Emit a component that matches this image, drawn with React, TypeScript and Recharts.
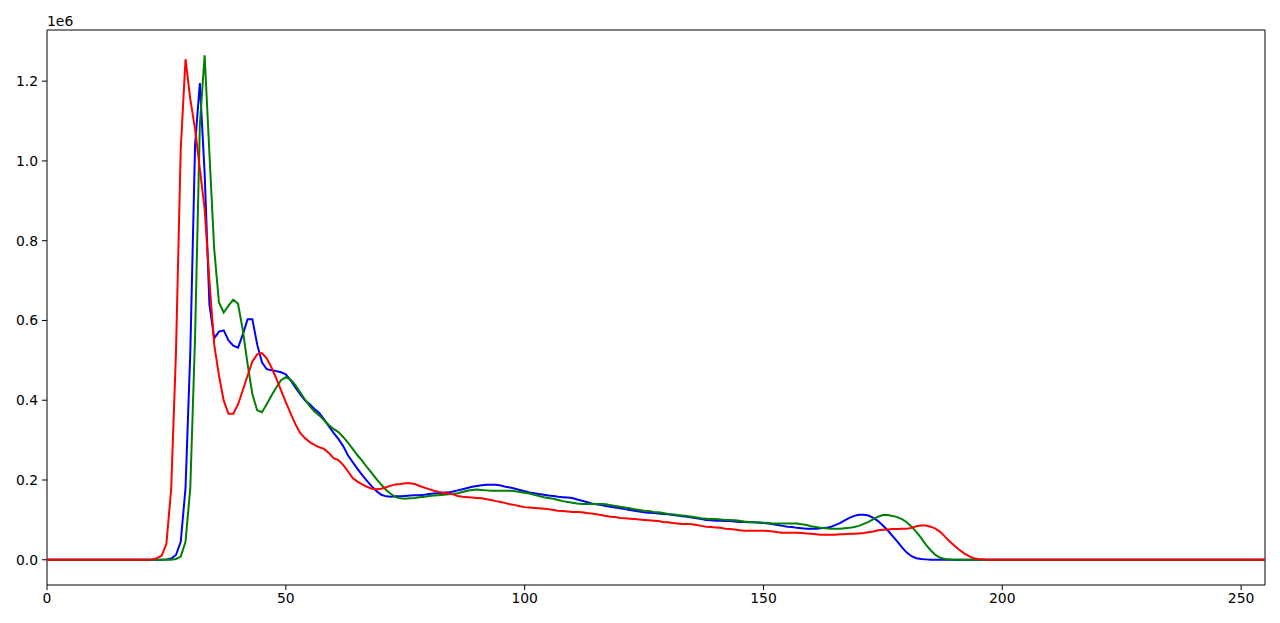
import React from 'react';
import { LineChart, Line, XAxis, YAxis, ReferenceArea } from 'recharts';

// pixel counts per intensity bin (0..255), values in thousands
const red = [
  0, 0, 0, 0, 0, 0, 0, 0, 0, 0,
  0, 0, 0, 0, 0, 0, 0, 0, 0, 0,
  0, 0, 1, 4, 10, 40, 178, 520, 1030, 1255,
  1155, 1080, 980, 880, 700, 540, 462, 399, 366, 366,
  390, 425, 462, 497, 515, 518, 505, 482, 455, 425,
  395, 367, 340, 318, 305, 295, 288, 282, 278, 268,
  255, 250, 238, 222, 205, 196, 189, 183, 178, 177,
  178, 182, 186, 189, 190, 192, 192, 190, 185, 181,
  177, 173, 170, 168, 166, 164, 160, 158, 157, 156,
  155, 154, 152, 150, 147, 145, 142, 139, 137, 134,
  132, 131, 130, 129, 128, 127, 125, 123, 122, 121,
  120, 120, 119, 117, 116, 114, 112, 110, 108, 107,
  105, 104, 103, 102, 101, 100, 99, 98, 97, 95,
  94, 92, 91, 90, 90, 89, 87, 85, 83, 82,
  81, 80, 78, 77, 76, 74, 73, 73, 73, 73,
  73, 72, 71, 69, 68, 68, 68, 68, 67, 66,
  65, 64, 63, 63, 63, 63, 64, 64, 65, 65,
  66, 67, 69, 71, 74, 75, 76, 77, 77, 78,
  78, 80, 84, 86, 86, 83, 78, 70, 58, 46,
  35, 25, 16, 9, 4, 2, 1, 0, 0, 0,
  0, 0, 0, 0, 0, 0, 0, 0, 0, 0,
  0, 0, 0, 0, 0, 0, 0, 0, 0, 0,
  0, 0, 0, 0, 0, 0, 0, 0, 0, 0,
  0, 0, 0, 0, 0, 0, 0, 0, 0, 0,
  0, 0, 0, 0, 0, 0, 0, 0, 0, 0,
  0, 0, 0, 0, 0, 0,
];

const green = [
  0, 0, 0, 0, 0, 0, 0, 0, 0, 0,
  0, 0, 0, 0, 0, 0, 0, 0, 0, 0,
  0, 0, 0, 0, 0, 0, 0, 2, 8, 45,
  180, 560, 1090, 1265, 1020, 780, 645, 620, 637, 652,
  642, 575, 490, 415, 375, 370, 390, 412, 432, 450,
  458, 452, 438, 420, 402, 385, 372, 362, 350, 338,
  328, 320, 308, 294, 278, 262, 248, 232, 217, 202,
  188, 175, 165, 157, 154, 153, 154, 155, 157, 158,
  160, 161, 162, 163, 164, 165, 167, 170, 173, 175,
  176, 175, 174, 173, 173, 173, 173, 173, 172, 170,
  168, 166, 163, 160, 157, 155, 153, 150, 147, 145,
  143, 141, 140, 140, 140, 140, 140, 139, 137, 135,
  133, 131, 129, 127, 125, 123, 122, 120, 119, 117,
  115, 114, 112, 111, 110, 108, 106, 104, 103, 102,
  102, 101, 100, 100, 99, 98, 96, 95, 94, 94,
  93, 92, 91, 91, 91, 91, 91, 91, 89, 87,
  84, 82, 80, 79, 78, 78, 78, 79, 80, 82,
  85, 90, 95, 102, 108, 112, 112, 110, 107, 102,
  94, 83, 70, 55, 38, 24, 12, 5, 2, 1,
  0, 0, 0, 0, 0, 0, 0, 0, 0, 0,
  0, 0, 0, 0, 0, 0, 0, 0, 0, 0,
  0, 0, 0, 0, 0, 0, 0, 0, 0, 0,
  0, 0, 0, 0, 0, 0, 0, 0, 0, 0,
  0, 0, 0, 0, 0, 0, 0, 0, 0, 0,
  0, 0, 0, 0, 0, 0, 0, 0, 0, 0,
  0, 0, 0, 0, 0, 0,
];

const blue = [
  0, 0, 0, 0, 0, 0, 0, 0, 0, 0,
  0, 0, 0, 0, 0, 0, 0, 0, 0, 0,
  0, 0, 0, 0, 0, 1, 3, 12, 45, 180,
  520, 1040, 1195, 970, 640, 555, 572, 575, 550, 537,
  532, 565, 603, 603, 540, 495, 478, 475, 473, 470,
  465, 450, 432, 415, 400, 390, 378, 368, 352, 335,
  318, 303, 285, 262, 245, 228, 212, 198, 184, 172,
  163, 159, 158, 159, 159, 160, 161, 162, 162, 163,
  165, 166, 167, 168, 169, 171, 174, 177, 180, 183,
  185, 187, 188, 188, 188, 186, 183, 181, 178, 175,
  172, 169, 167, 165, 163, 161, 160, 158, 157, 156,
  155, 151, 148, 145, 141, 139, 137, 135, 133, 131,
  129, 127, 125, 123, 121, 119, 118, 117, 116, 115,
  114, 112, 111, 109, 108, 106, 104, 102, 100, 99,
  98, 98, 97, 97, 96, 95, 95, 94, 94, 93,
  92, 91, 89, 87, 85, 83, 82, 80, 79, 78,
  78, 78, 79, 80, 82, 87, 92, 99, 105, 110,
  113, 113, 111, 105, 97, 86, 74, 60, 46, 31,
  18, 9, 4, 2, 1, 0, 0, 0, 0, 0,
  0, 0, 0, 0, 0, 0, 0, 0, 0, 0,
  0, 0, 0, 0, 0, 0, 0, 0, 0, 0,
  0, 0, 0, 0, 0, 0, 0, 0, 0, 0,
  0, 0, 0, 0, 0, 0, 0, 0, 0, 0,
  0, 0, 0, 0, 0, 0, 0, 0, 0, 0,
  0, 0, 0, 0, 0, 0, 0, 0, 0, 0,
  0, 0, 0, 0, 0, 0,
];

const xTicks = [0, 50, 100, 150, 200, 250];
const yTicks = [0, 200, 400, 600, 800, 1000, 1200];

const data = red.map((r, i) => ({ bin: i, r, g: green[i], b: blue[i] }));

const tickStyle = { fill: '#000', fontSize: 13.9, fontFamily: 'DejaVu Sans' };

// matplotlib style offset text above the y axis
const renderOffset = (props: any) => {
    const vb = props.viewBox || {};
    return (
        <text x={vb.x + vb.width} y={vb.y - 4} fill="#000" fontSize={13.9} fontFamily="DejaVu Sans" textAnchor="start">
            1e6
        </text>
    );
};

export default function App() {
    return (
        <div style={{ position: 'absolute', left: 0, top: 0, width: 1280, height: 623, background: '#fff' }}>
            <LineChart width={1280} height={623} data={data} margin={{ top: 30, right: 15, bottom: 0, left: 0 }}>
                <XAxis
                    dataKey="bin"
                    type="number"
                    domain={[0, 255]}
                    ticks={xTicks}
                    allowDataOverflow
                    axisLine={false}
                    tickLine={{ stroke: '#000' }}
                    tickSize={5}
                    tickMargin={3}
                    height={38}
                    tick={tickStyle}
                />
                <YAxis
                    type="number"
                    domain={[-63.25, 1328.25]}
                    ticks={yTicks}
                    allowDataOverflow
                    axisLine={false}
                    tickLine={{ stroke: '#000' }}
                    tickSize={5}
                    tickMargin={4}
                    width={47}
                    tick={tickStyle}
                    tickFormatter={(v: number) => (v / 1000).toFixed(1)}
                    label={renderOffset}
                />
                <Line type="linear" dataKey="b" stroke="#0000ff" strokeWidth={2} dot={false} activeDot={false} isAnimationActive={false} />
                <Line type="linear" dataKey="g" stroke="#008000" strokeWidth={2} dot={false} activeDot={false} isAnimationActive={false} />
                <Line type="linear" dataKey="r" stroke="#ff0000" strokeWidth={2} dot={false} activeDot={false} isAnimationActive={false} />
                <ReferenceArea x1={0} x2={255} y1={-63.25} y2={1328.25} fill="none" stroke="#000" strokeWidth={1} />
            </LineChart>
        </div>
    );
}
